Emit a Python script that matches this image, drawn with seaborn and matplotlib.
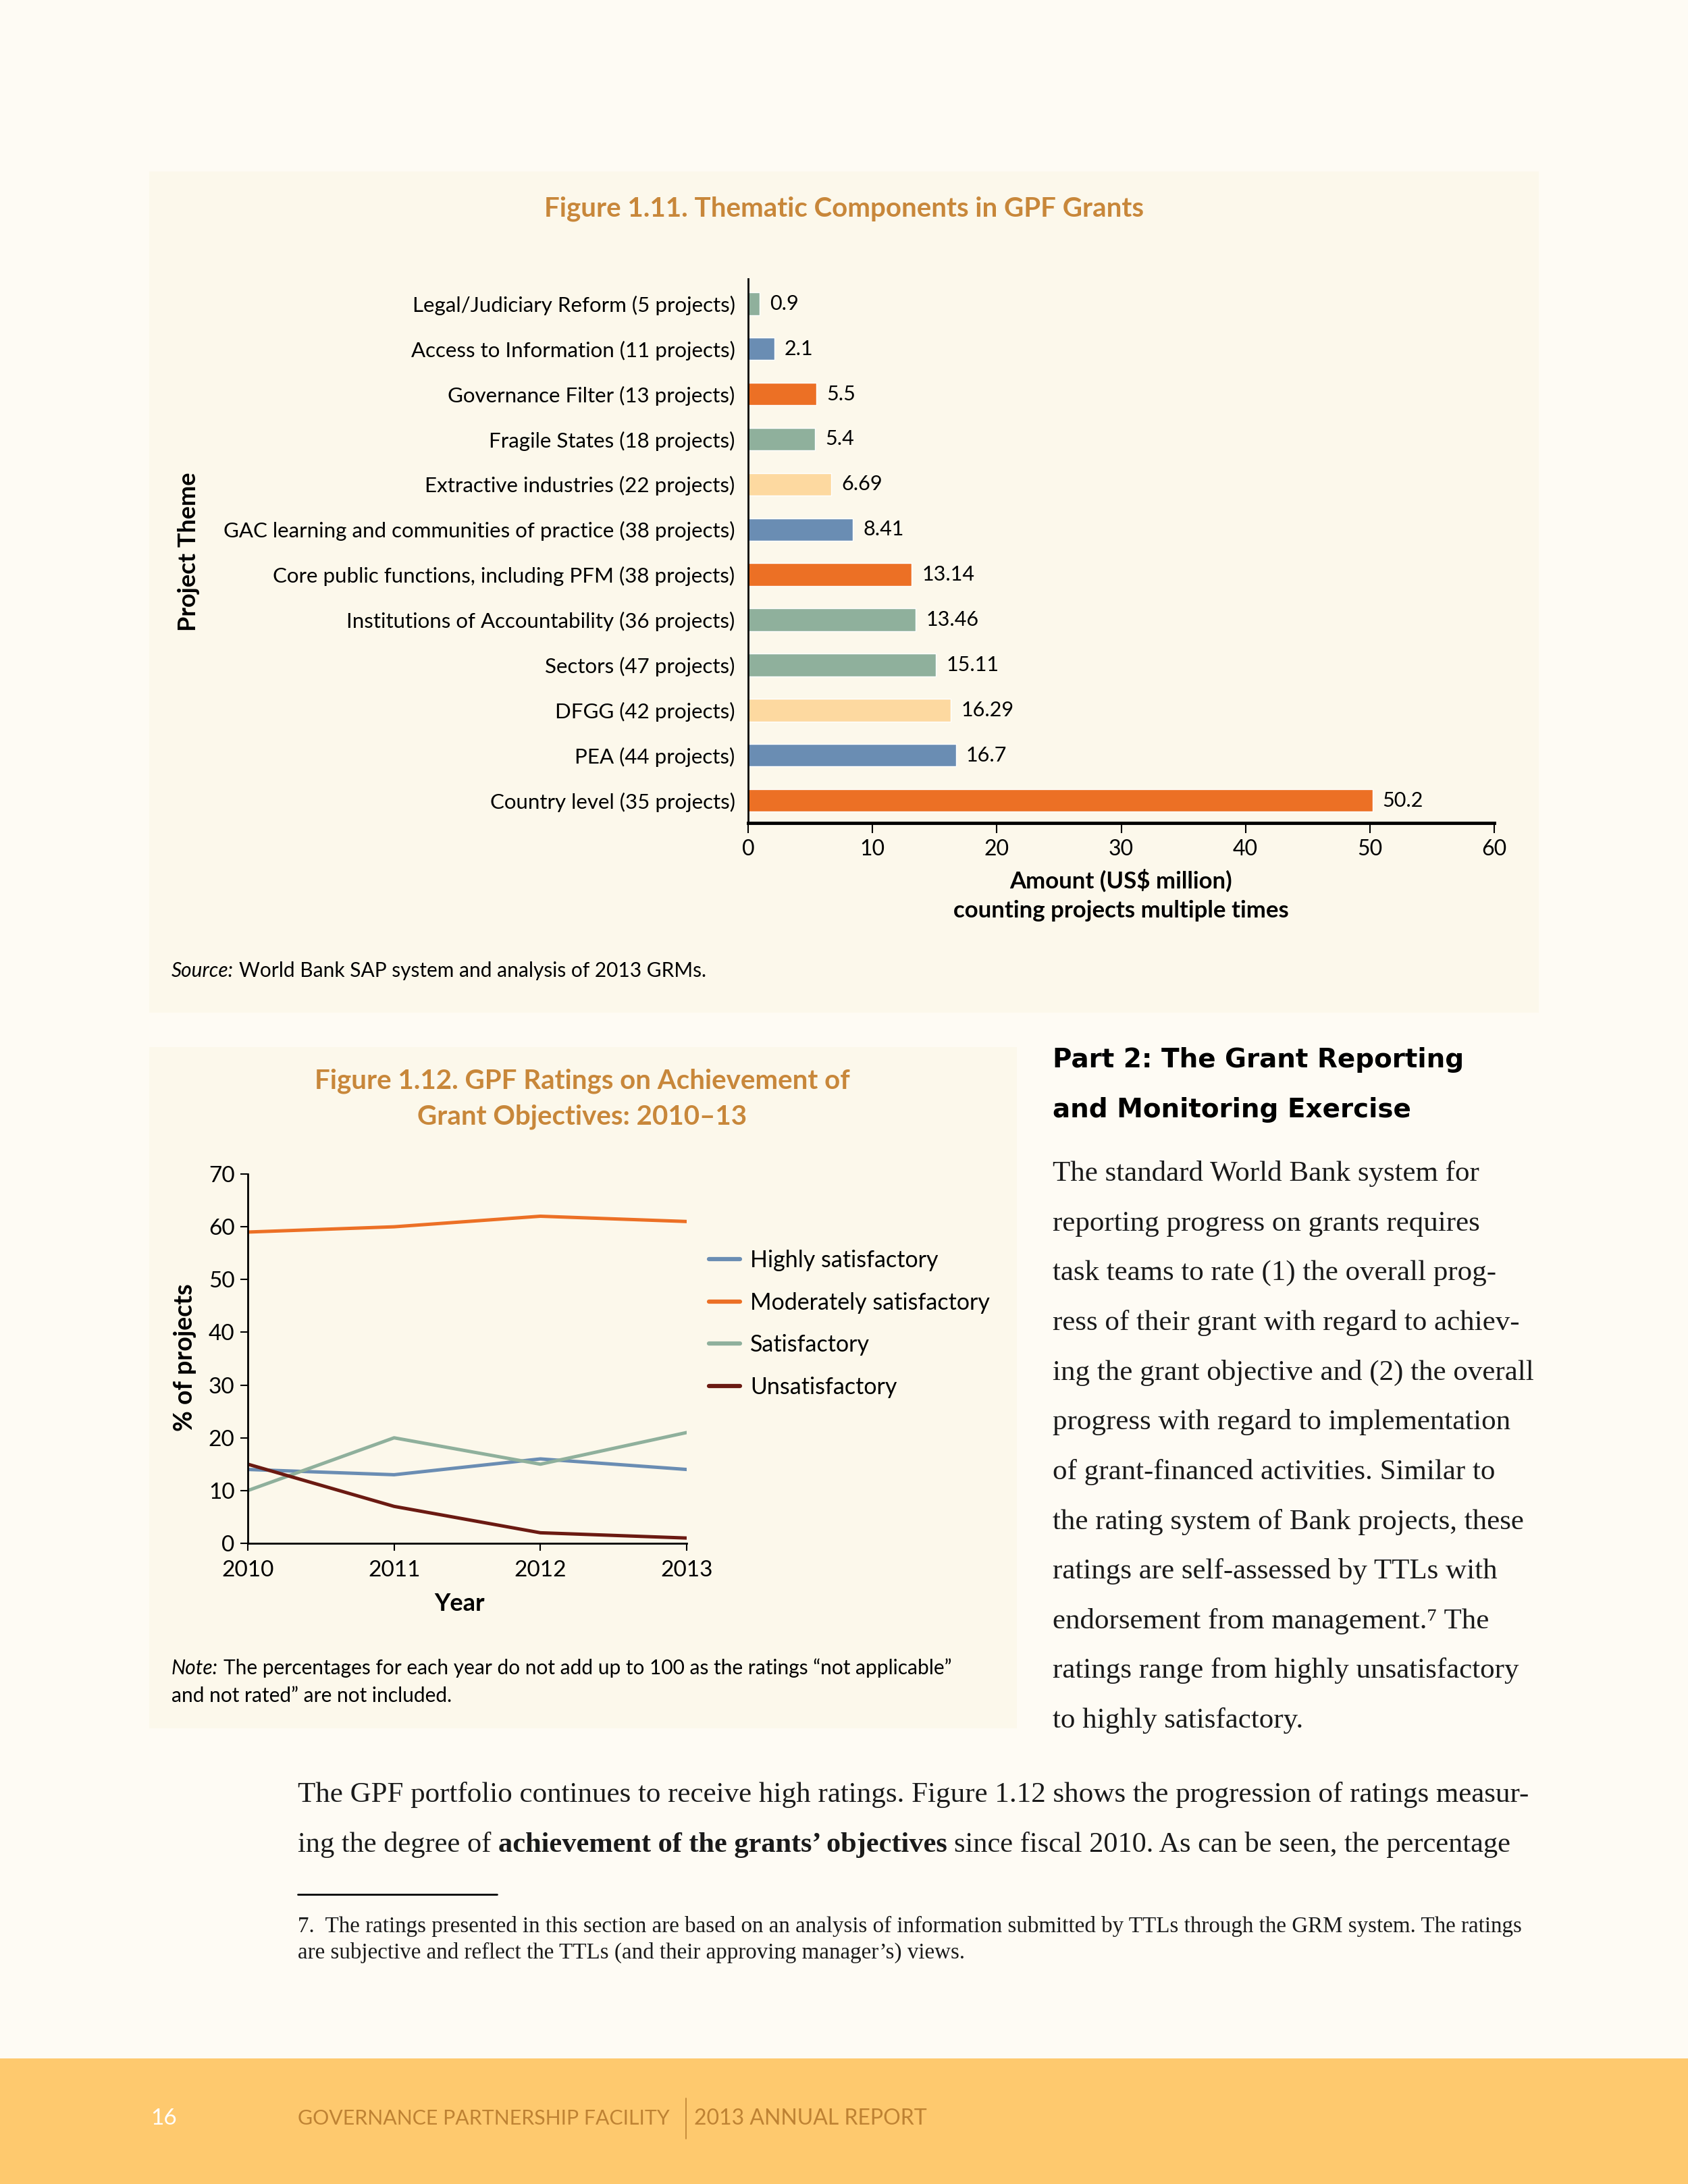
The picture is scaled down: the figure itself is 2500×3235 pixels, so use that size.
import numpy as np
import pandas as pd
import matplotlib
matplotlib.use('Agg')
import matplotlib.pyplot as plt
from matplotlib.patches import Rectangle
from matplotlib.lines import Line2D
import seaborn as sns

# ---- data: Figure 1.11 ----
themes = [
    'Legal/Judiciary Reform (5 projects)',
    'Access to Information (11 projects)',
    'Governance Filter (13 projects)',
    'Fragile States (18 projects)',
    'Extractive industries (22 projects)',
    'GAC learning and communities of practice (38 projects)',
    'Core public functions, including PFM (38 projects)',
    'Institutions of Accountability (36 projects)',
    'Sectors (47 projects)',
    'DFGG (42 projects)',
    'PEA (44 projects)',
    'Country level (35 projects)',
]
amounts = [0.9, 2.1, 5.5, 5.4, 6.69, 8.41, 13.14, 13.46, 15.11, 16.29, 16.7, 50.2]
bar_colors = ['#8FB09C', '#6A8DB3', '#EC7025', '#8FB09C', '#FDD9A0', '#6A8DB3',
              '#EC7025', '#8FB09C', '#8FB09C', '#FDD9A0', '#6A8DB3', '#EC7025']
amount_ticks = [0, 10, 20, 30, 40, 50, 60]

# ---- data: Figure 1.12 ----
years = [2010, 2011, 2012, 2013]
highly_sat = [14, 13, 16, 14]
moderately_sat = [59, 60, 62, 61]
satisfactory = [10, 20, 15, 21]
unsatisfactory = [15, 7, 2, 1]
rating_names = ['Highly satisfactory', 'Moderately satisfactory', 'Satisfactory', 'Unsatisfactory']
rating_colors = ['#6A8DB3', '#EC7025', '#8FB09C', '#6B1A12']
pct_ticks = [0, 10, 20, 30, 40, 50, 60, 70]

PAGE_BG = '#FEFBF4'
PANEL_BG = '#FCF8EB'
TITLE_COL = '#C8873A'
FOOT_BG = '#FEC96E'
FOOT_TXT = '#BE8233'

sns.set_theme(style='white')
plt.rcParams['font.family'] = ['Lato', 'DejaVu Sans']
plt.rcParams['text.color'] = 'black'
plt.rcParams['axes.labelcolor'] = 'black'
plt.rcParams['xtick.color'] = 'black'
plt.rcParams['ytick.color'] = 'black'

W, H = 2500, 3235
fig = plt.figure(figsize=(W / 100, H / 100), dpi=100, facecolor=PAGE_BG)
renderer = fig.canvas.get_renderer()


def fx(x):
    return x / W


def fy(y):
    return 1 - y / H


SANS = ['Lato', 'DejaVu Sans']
SERIF = ['Liberation Serif', 'DejaVu Serif']


def text(x, y, s, **kw):
    kw.setdefault('va', 'center')
    return fig.text(fx(x), fy(y), s, **kw)


def runs(x, y, parts, size, family, color='black'):
    # draw text pieces of different styles one after another on a line
    sp = fig.text(0, 0, 'x x', fontsize=size, family=family)
    nsp = fig.text(0, 0, 'xx', fontsize=size, family=family)
    space = sp.get_window_extent(renderer).width - nsp.get_window_extent(renderer).width
    sp.remove()
    nsp.remove()
    for s, kw in parts:
        t = fig.text(fx(x), fy(y), s.strip(), fontsize=size, family=family,
                     color=color, va='center', **kw)
        x += t.get_window_extent(renderer).width + space


# panels
fig.add_artist(Rectangle((fx(221), fy(1500)), fx(2279) - fx(221), fy(254) - fy(1500),
                         transform=fig.transFigure, facecolor=PANEL_BG, edgecolor='none', zorder=0))
fig.add_artist(Rectangle((fx(221), fy(2560)), fx(1506) - fx(221), fy(1551) - fy(2560),
                         transform=fig.transFigure, facecolor=PANEL_BG, edgecolor='none', zorder=0))
fig.add_artist(Rectangle((0, 0), 1, fy(3049), transform=fig.transFigure,
                         facecolor=FOOT_BG, edgecolor='none', zorder=0))

# ---------------- Figure 1.11 bar chart ----------------
ax1 = fig.add_axes([fx(1108), fy(1219), fx(2213) - fx(1108), fy(413) - fy(1219)])
ax1.set_facecolor('none')
bar_df = pd.DataFrame({'theme': themes, 'amount': amounts})
sns.barplot(data=bar_df, x='amount', y='theme', hue='theme', palette=bar_colors,
            order=themes, hue_order=themes, width=0.5, legend=False,
            saturation=1, ax=ax1)
for c in ax1.containers:
    ax1.bar_label(c, fmt='%g', padding=11, fontsize=22, family=SANS)
ax1.set_xlim(0, 60)
ax1.set_xticks(amount_ticks)
ax1.set_ylim(len(themes) - 0.5, -0.55)
ax1.set_xlabel('')
ax1.set_ylabel('')
ax1.tick_params(axis='y', length=0, pad=14, labelsize=22.5)
ax1.tick_params(axis='x', direction='out', length=11, width=1.5, pad=6, labelsize=23, bottom=True)
for s in ['top', 'right']:
    ax1.spines[s].set_visible(False)
ax1.spines['left'].set_linewidth(2)
ax1.spines['left'].set_color('black')
ax1.spines['bottom'].set_linewidth(3.5)
ax1.spines['bottom'].set_color('black')

text(1250, 309, 'Figure 1.11. Thematic Components in GPF Grants', ha='center',
     fontsize=29, fontweight='bold', color=TITLE_COL, family=SANS)
text(280, 817, 'Project Theme', ha='center', rotation=90, fontsize=26, fontweight='bold', family=SANS)
text(1660, 1304, 'Amount (US$ million)', ha='center', fontsize=25, fontweight='bold', family=SANS)
text(1660, 1349, 'counting projects multiple times', ha='center', fontsize=25, fontweight='bold', family=SANS)
runs(254, 1438, [('Source:', {'style': 'italic'}),
                 ('World Bank SAP system and analysis of 2013 GRMs.', {})], 21.5, SANS)

# ---------------- Figure 1.12 line chart ----------------
ax2 = fig.add_axes([fx(367), fy(2286), fx(1017) - fx(367), fy(1739) - fy(2286)])
ax2.set_facecolor('none')
line_df = pd.DataFrame({
    'year': years * 4,
    'pct': highly_sat + moderately_sat + satisfactory + unsatisfactory,
    'rating': sum([[n] * len(years) for n in rating_names], []),
})
sns.lineplot(data=line_df, x='year', y='pct', hue='rating', hue_order=rating_names,
             palette=rating_colors, linewidth=3.6, ax=ax2, legend=False)
ax2.set_xlim(2010, 2013)
ax2.set_ylim(0, 70)
ax2.set_xticks(years)
ax2.set_xticklabels([str(y) for y in years])
ax2.set_yticks(pct_ticks)
ax2.set_xlabel('')
ax2.set_ylabel('')
ax2.tick_params(axis='both', direction='out', length=8, width=1.5, labelsize=24,
                bottom=True, left=True)
ax2.tick_params(axis='x', pad=10)
ax2.tick_params(axis='y', pad=6)
for s in ['top', 'right']:
    ax2.spines[s].set_visible(False)
for s in ['left', 'bottom']:
    ax2.spines[s].set_linewidth(2)
    ax2.spines[s].set_color('black')

handles = [Line2D([], [], color=c, linewidth=4.5) for c in rating_colors]
fig.legend(handles, rating_names, loc='upper left', bbox_to_anchor=(fx(1050), fy(1851)),
           frameon=False, fontsize=24.5, handlelength=1.35, handletextpad=0.45,
           labelspacing=0.9, borderaxespad=0, borderpad=0)

text(862, 1601, 'Figure 1.12. GPF Ratings on Achievement of', ha='center',
     fontsize=29, fontweight='bold', color=TITLE_COL, family=SANS)
text(862, 1654, 'Grant Objectives: 2010–13', ha='center',
     fontsize=29, fontweight='bold', color=TITLE_COL, family=SANS)
text(274, 2011, '% of projects', ha='center', rotation=90, fontsize=27, fontweight='bold', family=SANS)
text(681, 2376, 'Year', ha='center', fontsize=26, fontweight='bold', family=SANS)
runs(254, 2471, [('Note:', {'style': 'italic'}),
                 ('The percentages for each year do not add up to 100 as the ratings \u201cnot applicable\u201d', {})],
     21.5, SANS)
text(254, 2512, 'and not rated\u201d are not included.', fontsize=21.5, family=SANS)

# ---------------- body text ----------------
text(1559, 1570, 'Part 2: The Grant Reporting', fontsize=28, fontweight='bold', family=['DejaVu Sans'])
text(1559, 1644, 'and Monitoring Exercise', fontsize=28, fontweight='bold', family=['DejaVu Sans'])

body_lines = [
    'The standard World Bank system for',
    'reporting progress on grants requires',
    'task teams to rate (1) the overall prog-',
    'ress of their grant with regard to achiev-',
    'ing the grant objective and (2) the overall',
    'progress with regard to implementation',
    'of grant-financed activities. Similar to',
    'the rating system of Bank projects, these',
    'ratings are self-assessed by TTLs with',
    'endorsement from management.\u2077 The',
    'ratings range from highly unsatisfactory',
    'to highly satisfactory.',
]
for i, line in enumerate(body_lines):
    text(1559, 1739 + i * 73.6, line, fontsize=31, family=SERIF, color='#1a1a1a')

text(441, 2659, 'The GPF portfolio continues to receive high ratings. Figure 1.12 shows the progression of ratings measur-',
     fontsize=31, family=SERIF, color='#1a1a1a')
runs(441, 2733, [('ing the degree of', {}),
                 ('achievement of the grants\u2019 objectives', {'fontweight': 'bold'}),
                 ('since fiscal 2010. As can be seen, the percentage', {})],
     30.5, SERIF, color='#1a1a1a')

fig.add_artist(Line2D([fx(441), fx(736)], [fy(2806), fy(2806)], transform=fig.transFigure,
                      color='black', linewidth=2))
text(441, 2853, '7.  The ratings presented in this section are based on an analysis of information submitted by TTLs through the GRM system. The ratings',
     fontsize=23.8, family=SERIF, color='#1a1a1a')
text(441, 2892, 'are subjective and reflect the TTLs (and their approving manager\u2019s) views.',
     fontsize=23.8, family=SERIF, color='#1a1a1a')

# ---------------- footer ----------------
text(223, 3138, '16', fontsize=24, color='white', family=SANS)
text(441, 3138, 'GOVERNANCE PARTNERSHIP FACILITY', fontsize=21.8, color=FOOT_TXT, family=SANS)
fig.add_artist(Line2D([fx(1016), fx(1016)], [fy(3108), fy(3168)], transform=fig.transFigure,
                      color=FOOT_TXT, linewidth=1.2))
text(1028, 3138, '2013 ANNUAL REPORT', fontsize=23, color=FOOT_TXT, family=SANS)

fig.savefig('out.png', dpi=100, facecolor=PAGE_BG)
